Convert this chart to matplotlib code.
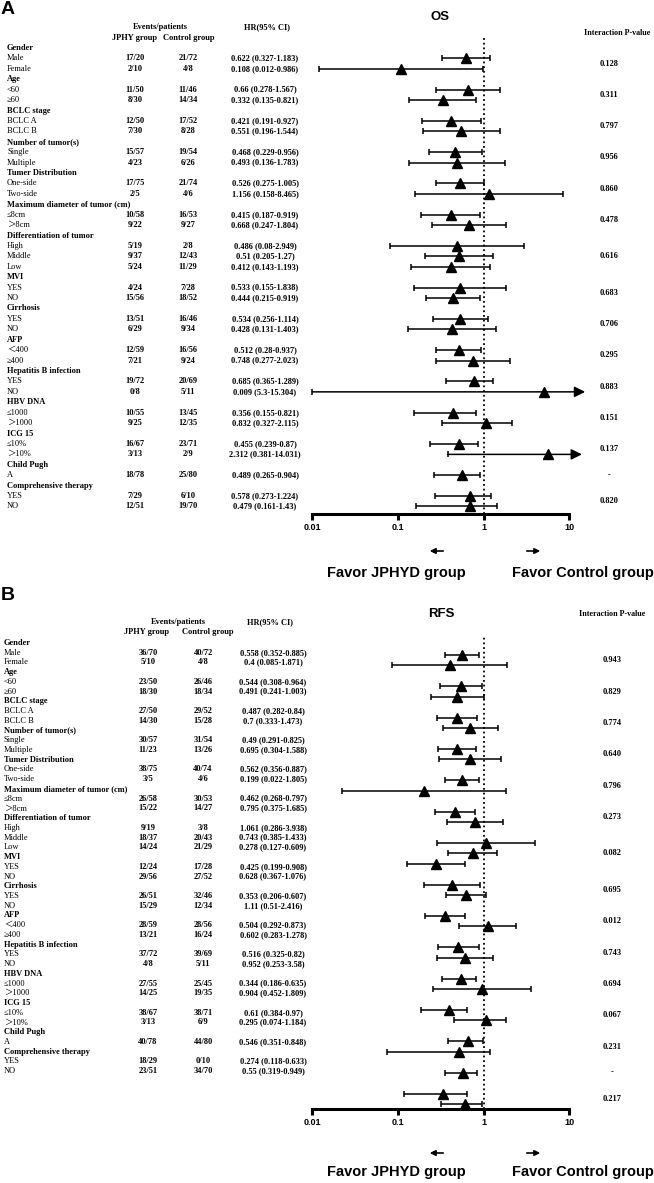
import numpy as np

import matplotlib
matplotlib.use("Agg")
import matplotlib.pyplot as plt
from matplotlib.ticker import NullLocator


W, H = 654, 1183
SERIF = ["Liberation Serif", "Noto Sans CJK SC"]
SANS = ["Liberation Sans", "DejaVu Sans"]

# subgroup structure (shared by both panels)
GROUPS = [
    ("Gender", ["Male", "Female"]),
    ("Age", ["<60", "≥60"]),
    ("BCLC stage", ["BCLC A", "BCLC B"]),
    ("Number of tumor(s)", ["Single", "Multiple"]),
    ("Tumer Distribution", ["One-side", "Two-side"]),
    ("Maximum diameter of tumor (cm)", ["≤8cm", "＞8cm"]),
    ("Differentiation of tumor", ["High", "Middle", "Low"]),
    ("MVI", ["YES", "NO"]),
    ("Cirrhosis", ["YES", "NO"]),
    ("AFP", ["＜400", "≥400"]),
    ("Hepatitis B infection", ["YES", "NO"]),
    ("HBV DNA", ["≤1000", "＞1000"]),
    ("ICG 15", ["≤10%", "＞10%"]),
    ("Child Pugh", ["A"]),
    ("Comprehensive therapy", ["YES", "NO"]),
]

# OS
os_jphy = ["17/20", "2/10", "11/50", "8/30", "12/50", "7/30", "15/57", "4/23", "17/75", "2/5",
           "10/58", "9/22", "5/19", "9/37", "5/24", "4/24", "15/56", "13/51", "6/29", "12/59",
           "7/21", "19/72", "0/8", "10/55", "9/25", "16/67", "3/13", "18/78", "7/29", "12/51"]
os_ctrl = ["21/72", "4/8", "11/46", "14/34", "17/52", "8/28", "19/54", "6/26", "21/74", "4/6",
           "16/53", "9/27", "2/8", "12/43", "11/29", "7/28", "18/52", "16/46", "9/34", "16/56",
           "9/24", "20/69", "5/11", "13/45", "12/35", "23/71", "2/9", "25/80", "6/10", "19/70"]
os_hr_text = ["0.622 (0.327-1.183)", "0.108 (0.012-0.986)", "0.66 (0.278-1.567)",
              "0.332 (0.135-0.821)", "0.421 (0.191-0.927)", "0.551 (0.196-1.544)",
              "0.468 (0.229-0.956)", "0.493 (0.136-1.783)", "0.526 (0.275-1.005)",
              "1.156 (0.158-8.465)", "0.415 (0.187-0.919)", "0.668 (0.247-1.804)",
              "0.486 (0.08-2.949)", "0.51 (0.205-1.27)", "0.412 (0.143-1.193)",
              "0.533 (0.155-1.838)", "0.444 (0.215-0.919)", "0.534 (0.256-1.114)",
              "0.428 (0.131-1.403)", "0.512 (0.28-0.937)", "0.748 (0.277-2.023)",
              "0.685 (0.365-1.289)", "0.009 (5.3-15.304)", "0.356 (0.155-0.821)",
              "0.832 (0.327-2.115)", "0.455 (0.239-0.87)", "2.312 (0.381-14.031)",
              "0.489 (0.265-0.904)", "0.578 (0.273-1.224)", "0.479 (0.161-1.43)"]
# marker positions as drawn in the figure
os_hr = [0.622, 0.108, 0.66, 0.332, 0.421, 0.551, 0.468, 0.493, 0.526, 1.156,
         0.415, 0.668, 0.486, 0.51, 0.412, 0.533, 0.444, 0.534, 0.428, 0.512,
         0.748, 0.77, 5.1, 0.44, 1.08, 0.52, 5.6, 0.56, 0.70, 0.70]
os_lo = [0.327, 0.012, 0.278, 0.135, 0.191, 0.196, 0.229, 0.136, 0.275, 0.158,
         0.187, 0.247, 0.08, 0.205, 0.143, 0.155, 0.215, 0.256, 0.131, 0.28,
         0.277, 0.365, 0.01, 0.155, 0.327, 0.239, 0.381, 0.265, 0.273, 0.161]
os_hi = [1.183, 0.986, 1.567, 0.821, 0.927, 1.544, 0.956, 1.783, 1.005, 8.465,
         0.919, 1.804, 2.949, 1.27, 1.193, 1.838, 0.919, 1.114, 1.403, 0.937,
         2.023, 1.289, 15.304, 0.821, 2.115, 0.87, 14.031, 0.904, 1.224, 1.43]
os_p = ["0.128", "0.311", "0.797", "0.956", "0.860", "0.478", "0.616", "0.683",
        "0.706", "0.295", "0.883", "0.151", "0.137", "-", "0.820"]

# RFS
rfs_jphy = ["36/70", "5/10", "23/50", "18/30", "27/50", "14/30", "30/57", "11/23", "38/75", "3/5",
            "26/58", "15/22", "9/19", "18/37", "14/24", "12/24", "29/56", "26/51", "15/29", "28/59",
            "13/21", "37/72", "4/8", "27/55", "14/25", "38/67", "3/13", "40/78", "18/29", "23/51"]
rfs_ctrl = ["40/72", "4/8", "26/46", "18/34", "29/52", "15/28", "31/54", "13/26", "40/74", "4/6",
            "30/53", "14/27", "3/8", "20/43", "21/29", "17/28", "27/52", "32/46", "12/34", "28/56",
            "16/24", "39/69", "5/11", "25/45", "19/35", "38/71", "6/9", "44/80", "0/10", "34/70"]
rfs_hr_text = ["0.558 (0.352-0.885)", "0.4 (0.085-1.871)", "0.544 (0.308-0.964)",
               "0.491 (0.241-1.003)", "0.487 (0.282-0.84)", "0.7 (0.333-1.473)",
               "0.49 (0.291-0.825)", "0.695 (0.304-1.588)", "0.562 (0.356-0.887)",
               "0.199 (0.022-1.805)", "0.462 (0.268-0.797)", "0.795 (0.375-1.685)",
               "1.061 (0.286-3.938)", "0.743 (0.385-1.433)", "0.278 (0.127-0.609)",
               "0.425 (0.199-0.908)", "0.628 (0.367-1.076)", "0.353 (0.206-0.607)",
               "1.11 (0.51-2.416)", "0.504 (0.292-0.873)", "0.602 (0.283-1.278)",
               "0.516 (0.325-0.82)", "0.952 (0.253-3.58)", "0.344 (0.186-0.635)",
               "0.904 (0.452-1.809)", "0.61 (0.384-0.97)", "0.295 (0.074-1.184)",
               "0.546 (0.351-0.848)", "0.274 (0.118-0.633)", "0.55 (0.319-0.949)"]
rfs_hr = [0.558, 0.4, 0.544, 0.491, 0.487, 0.7, 0.49, 0.695, 0.562, 0.199,
          0.462, 0.795, 1.061, 0.743, 0.278, 0.425, 0.628, 0.353, 1.11, 0.504,
          0.602, 0.55, 0.952, 0.39, 1.06, 0.65, 0.52, 0.58, 0.34, 0.61]
rfs_lo = [0.352, 0.085, 0.308, 0.241, 0.282, 0.333, 0.291, 0.304, 0.356, 0.022,
          0.268, 0.375, 0.286, 0.385, 0.127, 0.199, 0.367, 0.206, 0.51, 0.292,
          0.283, 0.325, 0.253, 0.186, 0.452, 0.384, 0.074, 0.351, 0.118, 0.319]
rfs_hi = [0.885, 1.871, 0.964, 1.003, 0.84, 1.473, 0.825, 1.588, 0.887, 1.805,
          0.797, 1.685, 3.938, 1.433, 0.609, 0.908, 1.076, 0.607, 2.416, 0.873,
          1.278, 0.82, 3.58, 0.635, 1.809, 0.97, 1.184, 0.848, 0.633, 0.949]
rfs_p = ["0.943", "0.829", "0.774", "0.640", "0.796", "0.273", "0.082", "0.695",
         "0.012", "0.743", "0.694", "0.067", "0.231", "-", "0.217"]

XTICKS = [0.01, 0.1, 1, 10]
XTICK_LABELS = ["0.01", "0.1", "1", "10"]


def fx(x):
    return x / W


def fy(y):
    return 1 - y / H


def build_rows():
    rows = []
    group_rows = []
    r = 0
    for name, subs in GROUPS:
        rows.append((name, True))
        r += 1
        idx = []
        for s in subs:
            rows.append((s, False))
            idx.append(r)
            r += 1
        group_rows.append(idx)
    return rows, group_rows


def draw_panel(fig, lay, title, jphy, ctrl, hr_text, hr, lo, hi, pvals):
    rows, group_rows = build_rows()
    sub_rows = np.array([r for g in group_rows for r in g], dtype=float)
    hr, lo, hi = np.array(hr), np.array(lo), np.array(hi)

    # panel letter and headers
    fig.text(fx(lay["letter"][0]), fy(lay["letter"][1]), lay["name"], ha="left", va="center",
             fontsize=14, fontweight="bold", family=SANS)
    fig.text(fx(lay["title_x"]), fy(lay["title_y"]), title, ha="center", va="center",
             fontsize=9.5, fontweight="bold", family=SANS)
    hy1, hy2 = lay["head_y"]
    c1, c2, c3 = lay["cols"]
    fig.text(fx(lay["events_x"]), fy(hy1), "Events/patients", ha="center", va="center",
             fontsize=6, fontweight="bold", family=SERIF)
    fig.text(fx(lay["hr_head_x"]), fy(hy1), "HR(95% CI)", ha="center", va="center",
             fontsize=6, fontweight="bold", family=SERIF)
    fig.text(fx(lay["grp_x"][0]), fy(hy2), "JPHY group", ha="center", va="center",
             fontsize=6, fontweight="bold", family=SERIF)
    fig.text(fx(lay["grp_x"][1]), fy(hy2), "Control group", ha="center", va="center",
             fontsize=6, fontweight="bold", family=SERIF)
    fig.text(fx(lay["p_head"][0]), fy(lay["p_head"][1]), "Interaction P-value",
             ha="center", va="center", fontsize=5.8, fontweight="bold", family=SERIF)

    # table rows
    k = 0
    for r, (txt, is_head) in enumerate(rows):
        ty = fy(lay["text_y0"] + lay["text_step"] * r)
        fig.text(fx(lay["label_x"]), ty, txt, ha="left", va="center", fontsize=6,
                 fontweight="bold" if is_head else "normal", family=SERIF)
        if not is_head:
            fig.text(fx(c1), ty, jphy[k], ha="center", va="center", fontsize=6,
                     fontweight="bold", family=SERIF)
            fig.text(fx(c2), ty, ctrl[k], ha="center", va="center", fontsize=6,
                     fontweight="bold", family=SERIF)
            fig.text(fx(c3), ty, hr_text[k], ha="center", va="center", fontsize=6,
                     fontweight="bold", family=SERIF)
            k += 1

    # forest plot axes
    x0, x1 = lay["ax_x"]
    top, bottom = lay["top_y"], lay["axis_y"]
    ax = fig.add_axes([fx(x0), fy(bottom), (x1 - x0) / W, (bottom - top) / H])
    ax.set_xscale("log")
    ax.set_xlim(0.01, 10)
    py0, pstep = lay["plot_y0"], lay["plot_step"]
    ax.set_ylim((bottom - py0) / pstep, (top - py0) / pstep)
    ax.patch.set_visible(False)
    for side in ["top", "right", "left"]:
        ax.spines[side].set_visible(False)
    ax.spines["bottom"].set_linewidth(2.2)
    ax.set_yticks([])
    ax.set_xticks(XTICKS)
    ax.set_xticklabels(XTICK_LABELS, fontsize=6.5, fontweight="bold", family=SANS)
    ax.xaxis.set_minor_locator(NullLocator())
    ax.tick_params(axis="x", direction="out", length=4.3, width=2.2, pad=2.5)

    ax.axvline(1, color="black", lw=1.3, ls=(0, (1, 1.6)), zorder=1)

    normal = hi <= 10
    ax.hlines(sub_rows[normal], lo[normal], hi[normal], colors="black", lw=1.1,
              zorder=2, clip_on=False)
    ax.plot(lo, sub_rows, "|", color="black", ms=4.8, mew=1.1, zorder=2, clip_on=False)
    ax.plot(hi[normal], sub_rows[normal], "|", color="black", ms=4.8, mew=1.1,
            zorder=2, clip_on=False)
    for i in np.where(~normal)[0]:
        ax.annotate("", xy=(hi[i], sub_rows[i]), xytext=(lo[i], sub_rows[i]),
                    annotation_clip=False,
                    arrowprops=dict(arrowstyle="-|>", color="black", lw=1.1,
                                    mutation_scale=16, shrinkA=0, shrinkB=0))
    ax.plot(hr, sub_rows, "^", color="black", ms=7, zorder=4, clip_on=False)

    # interaction p-values, centred on each subgroup block
    for idx, p in zip(group_rows, pvals):
        py = py0 + pstep * np.mean(idx)
        fig.text(fx(lay["p_x"]), fy(py), p, ha="center", va="center", fontsize=6,
                 fontweight="bold", family=SERIF)

    # favour arrows and captions
    ay = fy(lay["arrow_y"])
    fig.patches  # keep figure-level annotations on the figure
    for xa, xb in [(446, 427), (524, 543)]:
        fig.add_artist(matplotlib.patches.FancyArrowPatch(
            (fx(xa), ay), (fx(xb), ay), transform=fig.transFigure,
            arrowstyle="-|>", mutation_scale=8, lw=1.2, color="black"))
    fig.text(fx(396), fy(lay["favor_y"]), "Favor JPHYD group", ha="center", va="center",
             fontsize=10.5, fontweight="bold", family=SANS)
    fig.text(fx(512), fy(lay["favor_y"]), "Favor Control group", ha="left", va="center",
             fontsize=10.5, fontweight="bold", family=SANS)
    return ax


import matplotlib.patches

LAYOUT_A = {
    "name": "A", "letter": (1, 9), "title_x": 440, "title_y": 17,
    "head_y": (27, 38), "events_x": 160, "hr_head_x": 267, "grp_x": (135, 189),
    "cols": (135, 188, 265), "label_x": 7, "text_y0": 48, "text_step": 10.42,
    "ax_x": (312.3, 569.3), "top_y": 37.6, "axis_y": 514,
    "plot_y0": 48, "plot_step": 10.42, "p_x": 609, "p_head": (617, 33),
    "arrow_y": 551, "favor_y": 573,
}
LAYOUT_B = {
    "name": "B", "letter": (1, 595), "title_x": 441, "title_y": 614,
    "head_y": (622, 632), "events_x": 178, "hr_head_x": 270, "grp_x": (147, 208),
    "cols": (148, 203, 273), "label_x": 4, "text_y0": 643, "text_step": 9.73,
    "ax_x": (312.3, 569.3), "top_y": 635, "axis_y": 1109,
    "plot_y0": 644.6, "plot_step": 10.44, "p_x": 612, "p_head": (612, 614),
    "arrow_y": 1153, "favor_y": 1172,
}

fig = plt.figure(figsize=(W / 100, H / 100), dpi=100)
fig.patch.set_facecolor("white")
draw_panel(fig, LAYOUT_A, "OS", os_jphy, os_ctrl, os_hr_text, os_hr, os_lo, os_hi, os_p)
draw_panel(fig, LAYOUT_B, "RFS", rfs_jphy, rfs_ctrl, rfs_hr_text, rfs_hr, rfs_lo, rfs_hi, rfs_p)
fig.savefig("out.png", dpi=100)
